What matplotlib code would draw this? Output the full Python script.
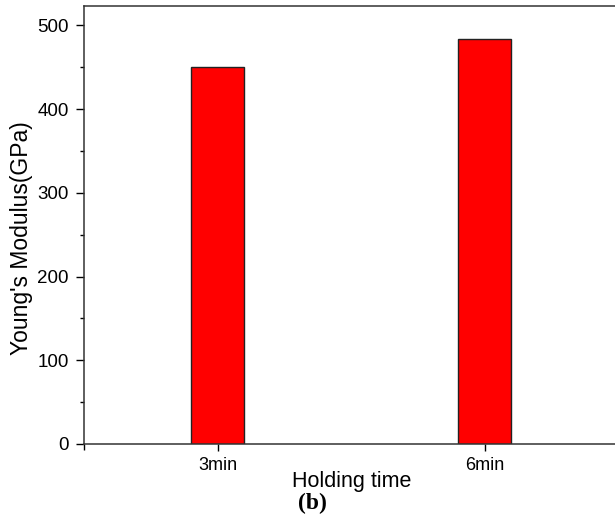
import matplotlib
matplotlib.use("Agg")
from matplotlib import pyplot as plt
from matplotlib.ticker import MultipleLocator, FixedLocator

plt.rcParams['font.family'] = ['Liberation Sans', 'DejaVu Sans']

categorias = ["3min", "6min"]
modulo = [450, 484]
posicoes = [1, 2]

fig = plt.figure(figsize=(6.15, 5.16), dpi=100)
ax = fig.add_axes([84/615, 72/516, 534/615, 438/516])

ax.bar(posicoes, modulo, width=0.2, color="#ff0000", edgecolor="#222222", linewidth=1)

ax.set_xlim(0.5, 2.5)
ax.set_ylim(0, 523)
ax.set_xticks(posicoes)
ax.set_xticklabels(categorias, fontsize=13)
ax.xaxis.set_minor_locator(FixedLocator([0.5]))
ax.yaxis.set_major_locator(MultipleLocator(100))
ax.yaxis.set_minor_locator(MultipleLocator(50))
ax.tick_params(axis="y", which="major", direction="out", length=6, width=1, labelsize=13.5, pad=5)
ax.tick_params(axis="y", which="minor", direction="out", length=3, width=1)
ax.tick_params(axis="x", which="major", direction="out", length=5, width=1, pad=4)
ax.tick_params(axis="x", which="minor", direction="out", length=4, width=1)
for s in ax.spines.values():
    s.set_linewidth(1.1)
    s.set_color("#333333")

ax.set_ylabel("Young's Modulus(GPa)", fontsize=16.5)
ax.yaxis.set_label_coords(-0.096, 0.47)
fig.text(352/615, 1 - 482/516, "Holding time", fontsize=15.5, ha="center", va="center")
fig.text(312/615, 1 - 503/516, "(b)", fontsize=17, fontweight="bold",
         family=["Liberation Serif", "DejaVu Serif"], ha="center", va="center")

fig.savefig("out.png", dpi=100)
